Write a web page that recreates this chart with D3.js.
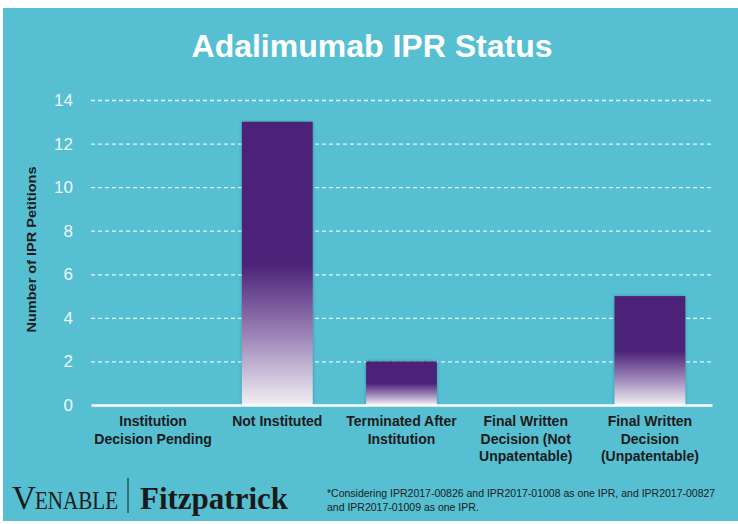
<!DOCTYPE html>
<html>
<head>
<meta charset="utf-8">
<script src="https://cdn.jsdelivr.net/npm/d3@7"></script>
<style>
  body { margin: 0; background: #fff; }
  svg { display: block; }
</style>
</head>
<body>
<div id="chart-area"></div>
<script>
const categories = [
	["Institution", "Decision Pending"],
	["Not Instituted"],
	["Terminated After", "Institution"],
	["Final Written", "Decision (Not", "Unpatentable)"],
	["Final Written", "Decision", "(Unpatentable)"]
];
const petitions = [0, 13, 2, 0, 5];
const yTicks = [0, 2, 4, 6, 8, 10, 12, 14];

const W = 738, H = 524;
const margin = { left: 91, right: 26, top: 100, bottom: 119 };
const width = W - margin.left - margin.right;
const height = H - margin.top - margin.bottom;

const svg = d3.select("#chart-area").append("svg")
	.attr("width", W)
	.attr("height", H);

// background panel
svg.append("rect")
	.attr("x", 3).attr("y", 8)
	.attr("width", W - 3).attr("height", 513)
	.attr("fill", "#56bfd1");

const defs = svg.append("defs");
const grad = defs.append("linearGradient")
	.attr("id", "barGrad")
	.attr("x1", 0).attr("y1", 0).attr("x2", 0).attr("y2", 1);
grad.append("stop").attr("offset", "0%").attr("stop-color", "#4b2177");
grad.append("stop").attr("offset", "50%").attr("stop-color", "#4b2177");
grad.append("stop").attr("offset", "75%").attr("stop-color", "#9a82b6");
grad.append("stop").attr("offset", "100%").attr("stop-color", "#f1eff3");

const shadow = defs.append("filter").attr("id", "shadow")
	.attr("x", "-10%").attr("y", "-10%").attr("width", "120%").attr("height", "120%");
shadow.append("feDropShadow")
	.attr("dx", 0).attr("dy", 0).attr("stdDeviation", 1.5)
	.attr("flood-color", "#1c4f5a").attr("flood-opacity", 0.45);

// title
svg.append("text")
	.attr("x", 372)
	.attr("y", 57)
	.attr("text-anchor", "middle")
	.attr("font-family", "Liberation Sans, Arial, sans-serif")
	.attr("font-weight", "bold")
	.attr("font-size", "32px")
	.attr("fill", "#ffffff")
	.text("Adalimumab IPR Status");

const g = svg.append("g")
	.attr("transform", `translate(${margin.left}, ${margin.top})`);

const x = d3.scaleBand()
	.domain(d3.range(categories.length))
	.range([0, width])
	.paddingInner(0.43)
	.paddingOuter(0.215);

const y = d3.scaleLinear().domain([0, 14]).range([height, 0]);

// gridlines
const yAxisCall = d3.axisLeft(y)
	.tickValues(yTicks)
	.tickSize(-width)
	.tickPadding(18);
const yAxis = g.append("g")
	.attr("class", "y-axis")
	.call(yAxisCall);
yAxis.select(".domain").remove();
yAxis.selectAll(".tick line")
	.attr("stroke", "#e6f5f8")
	.attr("stroke-width", 1.3)
	.attr("stroke-dasharray", "4,3")
	.attr("opacity", d => d === 0 ? 0 : 1);
yAxis.selectAll(".tick text")
	.attr("fill", "#eef8fa")
	.attr("font-family", "Liberation Sans, Arial, sans-serif")
	.attr("font-size", "17px");

// bars
g.selectAll("rect.bar").data(petitions).enter()
	.append("rect")
	.attr("class", "bar")
	.attr("x", (d, i) => x(i))
	.attr("y", d => y(d))
	.attr("width", x.bandwidth())
	.attr("height", d => height - y(d))
	.attr("fill", "url(#barGrad)")
	.attr("filter", "url(#shadow)");

// x axis
const xAxisCall = d3.axisBottom(x).tickSize(0).tickFormat("");
const xAxis = g.append("g")
	.attr("class", "x-axis")
	.attr("transform", `translate(0, ${height})`)
	.call(xAxisCall);
xAxis.select(".domain")
	.attr("stroke", "#ffffff")
	.attr("stroke-width", 2.5);

// category labels
const labels = g.selectAll("text.cat").data(categories).enter()
	.append("text")
	.attr("class", "cat")
	.attr("text-anchor", "middle")
	.attr("font-family", "Liberation Sans, Arial, sans-serif")
	.attr("font-weight", "bold")
	.attr("font-size", "14px")
	.attr("fill", "#1b1b1b")
	.attr("transform", (d, i) => `translate(${x(i) + x.bandwidth() / 2}, ${height + 21})`);
labels.selectAll("tspan").data(d => d).enter()
	.append("tspan")
	.attr("x", 0)
	.attr("dy", (d, i) => i === 0 ? 0 : 17.5)
	.text(d => d);

// y-axis label
g.append("text")
	.attr("x", -(height / 2) + 3)
	.attr("y", -55)
	.attr("transform", "rotate(-90)")
	.attr("text-anchor", "middle")
	.attr("font-family", "Liberation Sans, Arial, sans-serif")
	.attr("font-weight", "bold")
	.attr("font-size", "13.5px")
	.attr("textLength", 166)
	.attr("lengthAdjust", "spacingAndGlyphs")
	.attr("fill", "#1b1b1b")
	.text("Number of IPR Petitions");

// logo
const logo = svg.append("g").attr("font-family", "Liberation Serif, Times New Roman, serif").attr("fill", "#1a1a1a");
logo.append("text").attr("x", 12).attr("y", 509)
	.attr("font-size", "33px")
	.text("V");
logo.append("text").attr("x", 35).attr("y", 509)
	.attr("font-size", "25px")
	.attr("textLength", 83)
	.attr("lengthAdjust", "spacingAndGlyphs")
	.text("ENABLE");
logo.append("line")
	.attr("x1", 128).attr("x2", 128)
	.attr("y1", 478).attr("y2", 513)
	.attr("stroke", "#1a1a1a").attr("stroke-width", 1);
logo.append("text")
	.attr("x", 140).attr("y", 509)
	.attr("font-size", "31px")
	.attr("font-weight", "bold")
	.attr("textLength", 148)
	.attr("lengthAdjust", "spacingAndGlyphs")
	.text("Fitzpatrick");

// footnote
const note = svg.append("text")
	.attr("font-family", "Liberation Sans, Arial, sans-serif")
	.attr("font-size", "10.5px")
	.attr("fill", "#1b1b1b");
note.append("tspan").attr("x", 327).attr("y", 497)
	.text("*Considering IPR2017-00826 and IPR2017-01008 as one IPR, and IPR2017-00827");
note.append("tspan").attr("x", 327).attr("y", 511)
	.text("and IPR2017-01009 as one IPR.");
</script>
</body>
</html>
